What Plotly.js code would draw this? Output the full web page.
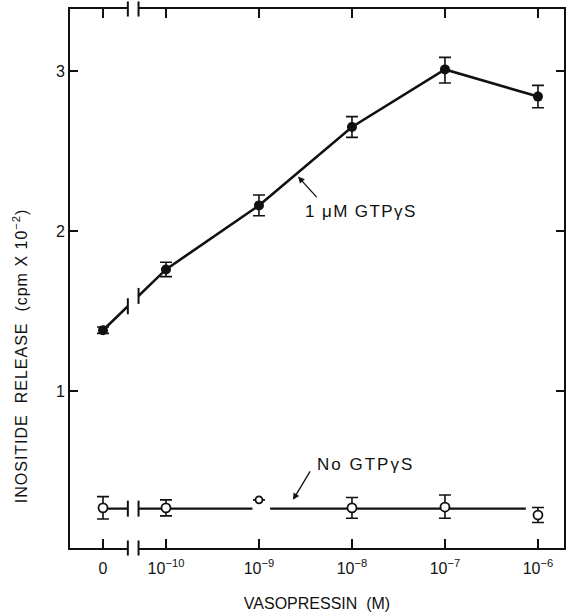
<!DOCTYPE html>
<html>
<head>
<meta charset="utf-8">
<script src="https://cdn.plot.ly/plotly-3.0.1.min.js"></script>
<style>
  html, body { margin: 0; padding: 0; background: #fff; }
  #chart { width: 566px; height: 615px; }
</style>
</head>
<body>
<div id="chart"></div>
<script>
// ---- Data ----
const concentrations = [0, 1e-10, 1e-9, 1e-8, 1e-7, 1e-6];          // vasopressin (M)
const tickLabels = ['0', '10<sup>−10</sup>', '10<sup>−9</sup>', '10<sup>−8</sup>', '10<sup>−7</sup>', '10<sup>−6</sup>'];
const withGTP = [1.38, 1.76, 2.16, 2.65, 3.01, 2.84];               // 1 µM GTPγS
const withGTPErrPlus = [0.02, 0.045, 0.065, 0.065, 0.075, 0.07];
const withGTPErrMinus = [0.02, 0.045, 0.065, 0.065, 0.085, 0.07];
const noGTP = [0.27, 0.27, 0.32, 0.27, 0.275, 0.225];               // no GTPγS
const noGTPErrPlus = [0.07, 0.05, null, 0.065, 0.075, 0.047];
const noGTPErrMinus = [0.07, 0.05, null, 0.065, 0.07, 0.047];
const noGTPLevel = 0.265;                                           // drawn mean line

// ---- Layout constants ----
const ZERO_POS = -10.677;        // plotting position of the "0" concentration
const BREAK_L = -10.41, BREAK_R = -10.295;
const X_RANGE = [-11.032, -5.72];
const Y_RANGE = [0.019, 3.3875];
const NO_LINE_END = -6.13, NO_GAP_L = -9.07, NO_GAP_R = -8.88;

const xPos = concentrations.map(c => c === 0 ? ZERO_POS : Math.log10(c));

function interpAt(xa, ya, xb, yb, x) { return ya + (yb - ya) * (x - xa) / (xb - xa); }

const black = '#111';

const traces = [
  // error bars of the no-GTPγS series (drawn beneath the open markers)
  {
    x: xPos, y: noGTP, type: 'scatter', mode: 'markers',
    marker: { size: 1, opacity: 0 },
    error_y: { type: 'data', symmetric: false, array: noGTPErrPlus, arrayminus: noGTPErrMinus,
               color: black, thickness: 1.6, width: 6 },
    hoverinfo: 'skip', showlegend: false
  },
  {
    x: [xPos[0], NO_GAP_L, null, NO_GAP_R, NO_LINE_END],
    y: [noGTPLevel, noGTPLevel, null, noGTPLevel, noGTPLevel],
    type: 'scatter', mode: 'lines',
    line: { color: black, width: 2.4 },
    hoverinfo: 'skip', showlegend: false
  },
  {
    x: xPos, y: noGTP, type: 'scatter', mode: 'markers',
    marker: { symbol: 'circle', size: [9, 9, 7, 9, 9, 9], color: '#ffffff', opacity: 1,
              line: { color: black, width: 1.8 } },
    hoverinfo: 'skip', showlegend: false
  },
  {
    x: xPos, y: withGTP, type: 'scatter', mode: 'lines+markers',
    line: { color: black, width: 2.6 },
    marker: { symbol: 'circle', size: 10, color: black },
    error_y: { type: 'data', symmetric: false, array: withGTPErrPlus, arrayminus: withGTPErrMinus,
               color: black, thickness: 1.6, width: 6 },
    hoverinfo: 'skip', showlegend: false
  }
];

// break marks
const shapes = [];
shapes.push({ type: 'rect', xref: 'x', yref: 'paper', x0: BREAK_L, x1: BREAK_R, y0: -0.03, y1: 1.03,
              fillcolor: '#fff', line: { width: 0 }, layer: 'above' });
[BREAK_L, BREAK_R].forEach(bx => {
  [0, 1].forEach(py => {
    shapes.push({ type: 'line', xref: 'x', yref: 'paper', x0: bx, x1: bx, y0: py - 0.014, y1: py + 0.014,
                  line: { color: black, width: 2 }, layer: 'above' });
  });
});
const upperL = interpAt(xPos[0], withGTP[0], xPos[1], withGTP[1], BREAK_L);
const upperR = interpAt(xPos[0], withGTP[0], xPos[1], withGTP[1], BREAK_R);
[[BREAK_L, upperL], [BREAK_R, upperR], [BREAK_L, noGTPLevel], [BREAK_R, noGTPLevel]].forEach(([bx, by]) => {
  shapes.push({ type: 'line', xref: 'x', yref: 'y', x0: bx, x1: bx, y0: by - 0.05, y1: by + 0.05,
                line: { color: black, width: 2 }, layer: 'above' });
});

const layout = {
  width: 566, height: 615,
  margin: { l: 70, r: 2, t: 9, b: 67 },
  paper_bgcolor: '#fff', plot_bgcolor: '#fff',
  font: { family: 'Liberation Sans, Arial, sans-serif', color: black, size: 16 },
  xaxis: {
    range: X_RANGE, tickmode: 'array', tickvals: xPos, ticktext: tickLabels,
    ticks: 'inside', ticklen: 9, tickwidth: 1.6, tickcolor: black,
    showline: true, linewidth: 2, linecolor: black, mirror: 'ticks',
    showgrid: false, zeroline: false, ticklabelstandoff: 5,
    tickfont: { size: 16 },
    title: { text: 'VASOPRESSIN  (M)', font: { size: 16 }, standoff: 22 }
  },
  yaxis: {
    range: Y_RANGE, tickmode: 'array', tickvals: [1, 2, 3], ticktext: ['1', '2', '3'],
    ticks: 'inside', ticklen: 8, tickwidth: 1.6, tickcolor: black,
    showline: true, linewidth: 2, linecolor: black, mirror: 'ticks',
    showgrid: false, zeroline: false,
    tickfont: { size: 16 }
  },
  shapes: shapes,
  annotations: [
    { x: -0.101, y: 0.356, xref: 'paper', yref: 'paper', textangle: -90,
      text: '<span style="letter-spacing:1px">INOSITIDE  RELEASE  (cpm X 10<sup>−2</sup>)</span>',
      showarrow: false, xanchor: 'center', yanchor: 'middle', font: { size: 16 } },
    { x: -8.58, y: 2.34, xref: 'x', yref: 'y', text: '', showarrow: true,
      ax: 20, ay: 22, arrowhead: 2, arrowsize: 1, arrowwidth: 1.3, arrowcolor: black },
    { x: -8.527, y: 2.12, xref: 'x', yref: 'y',
      text: '<span style="letter-spacing:1.4px">1 μM GTPγS</span>', showarrow: false,
      xanchor: 'left', yanchor: 'middle', font: { size: 17 } },
    { x: -8.634, y: 0.32, xref: 'x', yref: 'y', text: '', showarrow: true,
      ax: 18, ay: -30, arrowhead: 2, arrowsize: 1, arrowwidth: 1.3, arrowcolor: black },
    { x: -8.398, y: 0.54, xref: 'x', yref: 'y',
      text: '<span style="letter-spacing:2px">No GTPγS</span>', showarrow: false,
      xanchor: 'left', yanchor: 'middle', font: { size: 17 } }
  ]
};

Plotly.newPlot('chart', traces, layout, { staticPlot: true, displayModeBar: false });
</script>
</body>
</html>
